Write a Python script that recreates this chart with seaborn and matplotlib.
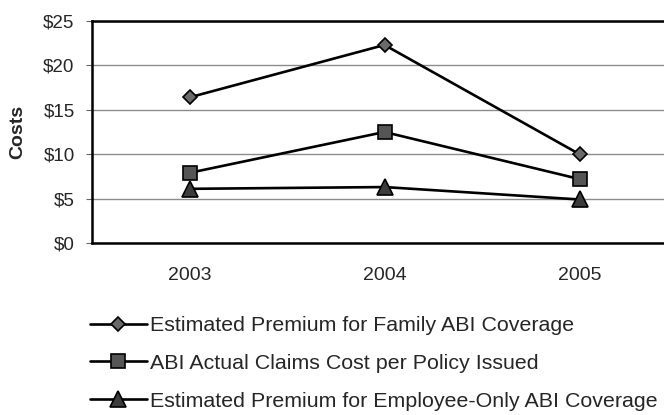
import matplotlib
matplotlib.use("Agg")
import matplotlib.pyplot as plt
import seaborn as sns
import pandas as pd

# Data
years = ["2003", "2004", "2005"]
family_premium = [16.4, 22.3, 10.0]
claims_cost = [7.9, 12.5, 7.2]
employee_premium = [6.1, 6.3, 4.9]
series_labels = [
    "Estimated Premium for Family ABI Coverage",
    "ABI Actual Claims Cost per Policy Issued",
    "Estimated Premium for Employee-Only ABI Coverage",
]
y_ticks = [0, 5, 10, 15, 20, 25]

sns.set_style("white")
plt.rcParams["font.family"] = ["Liberation Sans", "DejaVu Sans"]

W, H = 664, 415
fig = plt.figure(figsize=(W / 100, H / 100), dpi=100)
# plot area in pixels; the right border sits just past the figure edge
left, right, top, bottom = 92, 677, 21, 243
ax = fig.add_axes([left / W, 1 - bottom / H, (right - left) / W, (bottom - top) / H])

df = pd.DataFrame({
    "year_idx": [0, 1, 2] * 3,
    "cost": family_premium + claims_cost + employee_premium,
    "series": sum([[lab] * 3 for lab in series_labels], []),
})

styles = [
    dict(marker="D", markersize=7.5, markerfacecolor="#6a6a6a"),
    dict(marker="s", markersize=10, markerfacecolor="#555555"),
    dict(marker="^", markersize=11.5, markerfacecolor="#3c3c3c"),
]
for lab, st in zip(series_labels, styles):
    sub = df[df["series"] == lab]
    sns.lineplot(data=sub, x="year_idx", y="cost", ax=ax, color="black",
                 linewidth=1.9, markeredgecolor="black", markeredgewidth=1.2,
                 label=lab, **st)

ax.set_xlim(-0.5, 2.5)
ax.set_ylim(0, 25)
ax.set_yticks(y_ticks)
ax.set_yticklabels([f"${v}" for v in y_ticks], fontsize=13.5)
ax.set_xticks([0, 1, 2])
ax.set_xticklabels(years, fontsize=14)
ax.tick_params(axis="x", which="major", length=0, pad=17)
ax.set_xticks([-0.5, 0.5, 1.5], minor=True)
ax.tick_params(axis="x", which="minor", length=4, width=0.8, color="#666666")
ax.tick_params(axis="y", which="major", length=4.5, width=0.8, color="#666666",
               pad=8, left=True)

ax.set_xlabel("")
ax.set_ylabel("Costs", fontsize=14, fontweight="bold")
ax.yaxis.set_label_coords((26 - left) / (right - left), 0.5)

ax.yaxis.grid(True, color="#8c8c8c", linewidth=1.0)
ax.xaxis.grid(False)
ax.set_axisbelow(True)
for side in ["left", "top", "bottom", "right"]:
    ax.spines[side].set_visible(True)
    ax.spines[side].set_color("black")
    ax.spines[side].set_linewidth(1.8)

handles, labels = ax.get_legend_handles_labels()
ax.get_legend().remove()
fig.legend(handles, labels, loc="upper left",
           bbox_to_anchor=(90 / W, 1 - 316 / H), frameon=False,
           fontsize=15.4, handlelength=2.65, handletextpad=0.15,
           labelspacing=0.88, borderpad=0, borderaxespad=0)

fig.savefig("out.png", dpi=100)
